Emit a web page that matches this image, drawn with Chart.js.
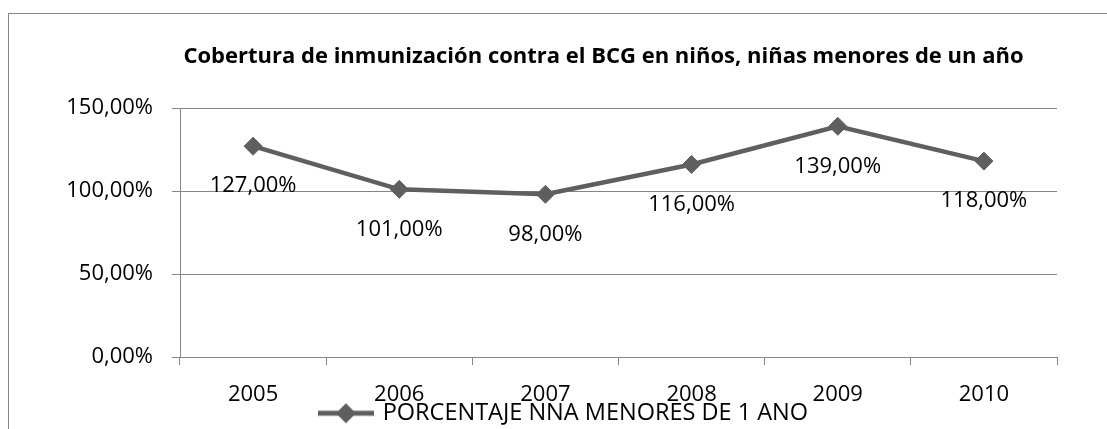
<!DOCTYPE html>
<html>
<head>
<meta charset="utf-8">
<script src="https://cdn.jsdelivr.net/npm/chart.js@4.4.0/dist/chart.umd.min.js"></script>
<style>
  html, body { margin: 0; padding: 0; background: #fff; overflow: hidden; }
  #chart { display: block; }
</style>
</head>
<body>
<canvas id="chart" width="1204" height="435"></canvas>
<script>
// data
const years = ['2005', '2006', '2007', '2008', '2009', '2010'];
const coverage = [127, 101, 98, 116, 139, 118];
const yTicks = [0, 50, 100, 150];

const seriesName = 'PORCENTAJE NNA MENORES DE 1 AÑO';
const chartTitle = 'Cobertura de inmunización contra el BCG en niños, niñas menores de un año';

const lineColor = '#5f5f5f';
const gridColor = '#868686';
const font = '"Open Sans", "Liberation Sans", sans-serif';

function pct(v) {
  return v.toFixed(2).replace('.', ',') + '%';
}

// little line + diamond for the legend
function legendIcon() {
  const c = document.createElement('canvas');
  c.width = 56; c.height = 22;
  const g = c.getContext('2d');
  g.strokeStyle = lineColor;
  g.lineWidth = 5;
  g.beginPath(); g.moveTo(0, 11); g.lineTo(56, 11); g.stroke();
  g.fillStyle = lineColor;
  g.beginPath();
  g.moveTo(28, 1); g.lineTo(38, 11); g.lineTo(28, 21); g.lineTo(18, 11);
  g.closePath(); g.fill();
  return c;
}

// outer frame of the chart (runs off the right and bottom of the picture)
const framePlugin = {
  id: 'frame',
  beforeDraw(chart) {
    const ctx = chart.ctx;
    ctx.save();
    ctx.fillStyle = '#fff';
    ctx.fillRect(0, 0, chart.width, chart.height);
    ctx.strokeStyle = gridColor;
    ctx.lineWidth = 1;
    ctx.strokeRect(8.5, 13.5, 1186, 440);
    ctx.restore();
  }
};

// value labels under every point
const valueLabels = {
  id: 'valueLabels',
  afterDatasetsDraw(chart) {
    const ctx = chart.ctx;
    const meta = chart.getDatasetMeta(0);
    ctx.save();
    ctx.font = '22px ' + font;
    ctx.fillStyle = '#000';
    ctx.textAlign = 'center';
    ctx.textBaseline = 'middle';
    meta.data.forEach((pt, i) => {
      ctx.fillText(pct(coverage[i]), pt.x, pt.y + 40);
    });
    ctx.restore();
  }
};

// title and legend sit off-centre in the original
const boxShift = {
  id: 'boxShift',
  afterLayout(chart) {
    if (chart.titleBlock) {
      chart.titleBlock.left += 75;
      chart.titleBlock.right += 75;
    }
    if (chart.legend) {
      chart.legend.left += 36;
      chart.legend.right += 36;
    }
  }
};

new Chart(document.getElementById('chart'), {
  type: 'line',
  data: {
    labels: years,
    datasets: [{
      label: seriesName,
      data: coverage,
      borderColor: lineColor,
      backgroundColor: lineColor,
      borderWidth: 4.5,
      tension: 0,
      pointStyle: 'rectRot',
      pointRadius: 9,
      pointBorderWidth: 1,
      pointBackgroundColor: lineColor,
      pointBorderColor: lineColor
    }]
  },
  options: {
    responsive: false,
    animation: false,
    layout: { padding: { left: 0, right: 147, top: 0, bottom: 0 } },
    plugins: {
      tooltip: { enabled: false },
      title: {
        display: true,
        text: chartTitle,
        color: '#000',
        font: { family: font, size: 22, weight: 'bold' },
        padding: { top: 44, bottom: 37.6 }
      },
      legend: {
        position: 'bottom',
        labels: {
          usePointStyle: true,
          pointStyle: legendIcon(),
          pointStyleWidth: 50,
          padding: 0,
          color: '#000',
          font: { family: font, size: 23.5 }
        }
      }
    },
    scales: {
      x: {
        offset: true,
        grid: { display: true, drawOnChartArea: false, color: gridColor, tickLength: 8, offset: true },
        border: { color: gridColor },
        ticks: { color: '#000', font: { family: font, size: 22 }, padding: 17, maxRotation: 0 },
        afterFit(scale) { scale.height = 44.5; }
      },
      y: {
        min: 0,
        max: 150,
        afterBuildTicks(scale) { scale.ticks = yTicks.map(v => ({ value: v })); },
        grid: { color: gridColor, tickLength: 8 },
        border: { color: gridColor },
        ticks: {
          color: '#000',
          font: { family: font, size: 22 },
          padding: 19,
          callback: v => pct(v)
        },
        afterFit(scale) { scale.width = 180; }
      }
    }
  },
  plugins: [framePlugin, valueLabels, boxShift]
});
</script>
</body>
</html>
